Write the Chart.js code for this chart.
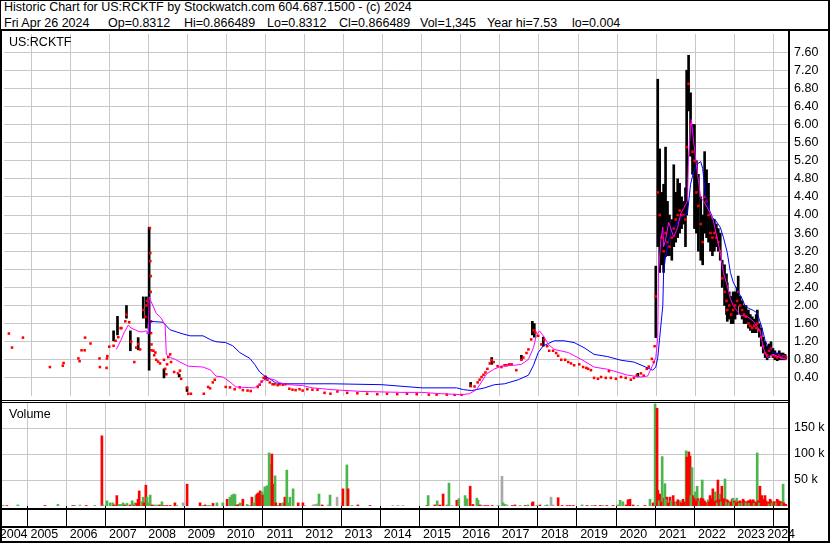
<!DOCTYPE html>
<html><head><meta charset="utf-8">
<script src="https://cdn.jsdelivr.net/npm/chart.js@4/dist/chart.umd.min.js"></script>
<style>
html,body{margin:0;padding:0;background:#fff;}
#wrap{position:relative;width:830px;height:543px;overflow:hidden;background:#fff;font-family:"Liberation Sans",Arial,sans-serif;}
.t{position:absolute;font-size:12.5px;line-height:14px;color:#000;white-space:pre;}
.ln{position:absolute;background:#000;}
canvas{position:absolute;left:0;}
</style></head><body>
<div id="wrap">
<canvas id="price" width="830" height="370" style="top:30px"></canvas>
<canvas id="vol" width="830" height="140" style="top:402px"></canvas>

<div class="t" style="left:4px;top:0px">Historic Chart for US:RCKTF by Stockwatch.com 604.687.1500 - (c) 2024</div>
<div class="t" style="left:4px;top:16px">Fri Apr 26 2024</div>
<div class="t" style="left:108px;top:16px">Op=0.8312</div>
<div class="t" style="left:184px;top:16px">Hi=0.866489</div>
<div class="t" style="left:267px;top:16px">Lo=0.8312</div>
<div class="t" style="left:339px;top:16px">Cl=0.866489</div>
<div class="t" style="left:420px;top:16px">Vol=1,345</div>
<div class="t" style="left:487px;top:16px">Year hi=7.53</div>
<div class="t" style="left:572px;top:16px">lo=0.004</div>
<div class="t" style="left:9px;top:35px">US:RCKTF</div>
<div class="t" style="left:9px;top:407px">Volume</div>

<div class="ln" style="left:0;top:0;width:830px;height:1px"></div>
<div class="ln" style="left:0;top:0;width:1px;height:543px"></div>
<div class="ln" style="left:828px;top:0;width:2px;height:543px"></div>
<div class="ln" style="left:0;top:541px;width:830px;height:2px"></div>
<div class="ln" style="left:0;top:29px;width:830px;height:2px"></div>
<div class="ln" style="left:0;top:29px;width:2px;height:514px"></div>
<div class="ln" style="left:788px;top:29px;width:2px;height:514px"></div>
<div class="ln" style="left:0;top:400px;width:789px;height:1px"></div>
<div class="ln" style="left:0;top:402px;width:789px;height:1px"></div>
<div class="ln" style="left:0;top:508px;width:789px;height:2px"></div>
<div class="ln" style="left:0;top:526px;width:789px;height:2px"></div>
</div>
<script>
// ---------- tick labels / categories ----------
const yearLabels = ['2004','2005','2006','2007','2008','2009','2010','2011','2012','2013','2014','2015','2016','2017','2018','2019','2020','2021','2022','2023','2024'];
const priceTickValues = [0.4,0.8,1.2,1.6,2.0,2.4,2.8,3.2,3.6,4.0,4.4,4.8,5.2,5.6,6.0,6.4,6.8,7.2,7.6];
const volumeTickValues = [50,100,150];
const volumeTickLabels = ['50 k','100 k','150 k'];

// ---------- closes (red marks) ----------
const closeDates = [
2004.43,2004.51,2004.79,2005.48,2005.81,2005.83,2006.21,2006.24,2006.29,2006.37,2006.38,2006.52,2006.75,2006.76,2006.93,2006.94,2006.95,
2007.00,2007.11,2007.16,2007.23,2007.29,2007.31,2007.41,2007.44,2007.51,2007.56,2007.64,2007.69,2007.74,2007.79,2007.87,2007.92,2007.95,2007.97,
2008.04,2008.05,2008.05,2008.06,2008.06,2008.07,2008.07,2008.08,2008.08,
2008.13,2008.15,2008.18,2008.20,2008.25,2008.30,2008.40,2008.43,2008.46,2008.48,2008.51,2008.56,2008.58,2008.66,2008.76,2008.81,2008.84,2008.99,
2009.02,2009.09,2009.42,2009.53,2009.58,2009.65,2009.70,2009.98,2010.09,2010.21,2010.34,2010.42,2010.54,2010.62,2010.80,2010.85,2010.90,2010.95,
2011.00,2011.05,2011.11,2011.18,2011.23,2011.31,2011.36,2011.44,2011.51,2011.61,2011.69,2011.77,2011.87,2011.95,2012.07,2012.20,2012.33,2012.51,2012.66,2012.84,
2013.09,2013.35,2013.60,2013.86,2014.11,2014.37,2014.62,2014.87,2015.18,2015.38,2015.64,2015.84,2016.02,
2016.25,2016.35,2016.43,2016.48,2016.53,2016.58,2016.63,2016.68,2016.74,2016.79,2016.84,2016.94,
2017.04,2017.12,2017.17,2017.24,2017.30,2017.42,2017.55,2017.60,2017.68,2017.73,2017.80,2017.86,2017.91,2017.98,
2018.06,2018.13,2018.21,2018.26,2018.36,2018.44,2018.49,2018.57,2018.67,2018.75,2018.82,2018.90,
2019.03,2019.13,2019.21,2019.26,2019.33,2019.41,2019.51,2019.59,2019.71,2019.79,2019.84,2019.97,
2020.10,2020.22,2020.35,2020.43,2020.50,2020.61,2020.68,2020.76,2020.81,2020.89,2020.94,2020.96,
2020.99,2021.04,2021.09,2021.14,2021.19,2021.24,2021.29,2021.34,2021.40,2021.45,2021.50,2021.55,2021.60,2021.65,2021.70,2021.75,2021.78,2021.83,2021.88,2021.93,
2021.98,2022.03,2022.08,2022.14,2022.19,2022.24,2022.29,2022.34,2022.39,2022.44,2022.49,2022.54,2022.59,2022.64,2022.69,2022.75,2022.80,2022.82,2022.87,2022.92,
2022.97,2023.02,2023.07,2023.10,2023.15,2023.20,2023.25,2023.30,2023.36,2023.41,2023.46,2023.51,2023.56,2023.59,2023.64,2023.69,2023.74,2023.79,2023.84,2023.89,
2023.94,2023.99,2024.04,2024.10,2024.15,2024.20,2024.25,2024.30,2024.32];
const closeValues = [
1.38,1.07,1.29,0.64,0.67,0.73,0.83,0.77,1.01,1.01,1.29,1.16,0.83,0.64,0.62,0.83,0.88,
1.09,1.11,1.22,1.30,1.50,1.50,1.65,1.80,1.63,1.20,0.75,1.07,1.15,1.03,1.90,1.75,2.00,2.10,
3.71,3.16,2.98,2.65,2.30,1.65,1.39,1.14,1.01,
1.00,0.90,0.96,0.80,0.76,0.72,0.80,0.60,0.48,0.70,0.86,0.92,0.75,0.53,0.50,0.56,0.38,0.18,
0.05,0.05,0.05,0.20,0.17,0.30,0.36,0.20,0.19,0.15,0.19,0.13,0.12,0.11,0.20,0.25,0.32,0.40,
0.42,0.36,0.30,0.26,0.26,0.24,0.26,0.25,0.26,0.16,0.14,0.13,0.15,0.12,0.15,0.14,0.14,0.07,0.05,0.10,
0.07,0.06,0.05,0.04,0.05,0.04,0.05,0.04,0.03,0.03,0.03,0.02,0.02,
0.23,0.21,0.30,0.36,0.42,0.47,0.52,0.60,0.72,0.79,0.75,0.66,
0.64,0.68,0.68,0.70,0.70,0.57,0.80,0.85,0.95,1.03,1.25,1.45,1.40,1.33,
1.14,1.24,1.10,1.00,1.00,0.95,0.89,0.80,0.80,0.75,0.72,0.68,
0.70,0.64,0.62,0.60,0.57,0.40,0.38,0.42,0.40,0.55,0.40,0.38,
0.42,0.40,0.36,0.40,0.45,0.50,0.45,0.60,0.65,0.82,0.75,1.10,
2.2,4.5,4.0,3.5,3.2,3.6,3.4,3.3,3.5,3.7,3.9,4.0,4.1,4.0,4.0,3.9,5.5,6.9,6.0,5.4,
5.2,4.5,4.2,3.8,3.4,4.4,4.3,4.0,3.6,3.5,3.6,3.5,3.4,3.2,2.6,2.3,2.1,1.9,2.0,1.8,
1.9,2.0,2.1,2.3,2.0,1.9,1.8,1.75,1.6,1.55,1.5,1.55,1.5,1.6,1.45,1.3,1.1,0.95,0.9,1.0,
1.05,0.9,0.88,0.85,0.9,0.85,0.88,0.85,0.87];

// ---------- high-low ranges (black bars) ----------
const barDates = [
2007.11,2007.21,2007.44,2007.54,2007.74,2007.87,2007.95,2007.97,2008.02,2008.40,2008.79,2008.99,2011.00,2016.25,2016.79,2017.55,2017.83,2017.88,2018.11,2020.53,
2020.99,2021.04,2021.09,2021.14,2021.19,2021.24,2021.29,2021.34,2021.40,2021.45,2021.50,2021.55,2021.60,2021.65,2021.70,2021.75,2021.78,2021.83,2021.88,2021.93,
2021.98,2022.03,2022.08,2022.14,2022.19,2022.24,2022.29,2022.34,2022.39,2022.44,2022.49,2022.54,2022.59,2022.64,2022.69,2022.75,2022.80,2022.82,2022.87,2022.92,
2022.97,2023.02,2023.07,2023.10,2023.15,2023.20,2023.25,2023.30,2023.36,2023.41,2023.46,2023.51,2023.56,2023.59,2023.64,2023.69,2023.74,2023.79,2023.84,2023.89,
2023.94,2023.99,2024.04,2024.10,2024.15,2024.20,2024.25,2024.30,2024.32];
const barLows = [
1.22,1.35,1.72,1.00,1.02,1.72,1.50,1.60,0.57,0.40,0.42,0.10,0.36,0.20,0.70,0.80,1.35,1.30,1.10,0.42,
1.29,3.30,2.73,2.90,2.73,3.08,3.10,3.10,3.00,3.30,3.40,3.50,3.60,3.70,3.80,3.30,4.00,6.30,5.30,4.90,
3.70,3.60,3.20,3.00,2.90,3.60,3.50,3.40,3.20,3.10,3.20,3.30,3.20,3.00,2.40,2.00,1.80,1.65,1.70,1.60,
1.60,1.70,1.80,2.00,1.80,1.70,1.60,1.60,1.50,1.45,1.40,1.40,1.40,1.50,1.30,1.10,0.95,0.85,0.80,0.85,
0.90,0.85,0.80,0.78,0.80,0.80,0.80,0.80,0.83];
const barHighs = [
1.44,1.76,2.00,1.44,1.29,2.19,2.19,2.00,3.73,0.60,0.48,0.20,0.44,0.30,0.85,0.90,1.65,1.60,1.30,0.50,
2.87,7.00,5.46,4.50,4.68,5.50,4.30,4.00,3.90,5.11,4.50,4.80,4.70,4.40,4.30,4.60,7.20,7.53,6.70,6.00,
6.00,5.20,4.90,4.40,4.00,5.40,5.00,4.70,4.00,3.90,3.90,3.80,3.70,3.60,3.00,2.90,2.70,2.50,2.30,2.20,
2.30,2.30,2.40,2.65,2.20,2.10,2.00,2.00,1.90,1.80,1.75,1.70,1.80,1.90,1.60,1.50,1.30,1.20,1.10,1.15,
1.20,1.05,1.00,0.95,1.00,0.95,0.95,0.92,0.87];

// ---------- short moving average (magenta) ----------
const fastDates = [
2007.18,2007.28,2007.39,2007.49,2007.56,2007.67,2007.77,2007.87,2007.95,2008.00,2008.02,2008.07,2008.20,2008.33,2008.40,2008.43,2008.46,2008.56,2008.69,2008.81,
2009.02,2009.40,2009.60,2009.73,2009.91,2010.09,2010.24,2010.72,2010.85,2010.98,2011.11,2011.23,2011.36,2011.61,2011.95,2012.20,2012.46,2012.71,2013.47,2014.49,
2015.00,2015.51,2016.02,2016.22,2016.40,2016.53,2016.66,2016.84,2017.04,2017.37,2017.55,2017.73,2017.86,2017.93,2018.01,2018.11,2018.24,2018.39,2018.75,2019.08,
2019.41,2019.76,2020.27,2020.61,2020.78,2020.91,2020.99,2021.04,2021.06,2021.12,2021.17,2021.19,2021.24,2021.32,2021.37,2021.45,2021.55,2021.63,2021.70,2021.80,
2021.83,2021.90,2021.96,2022.06,2022.14,2022.21,2022.31,2022.39,2022.46,2022.57,2022.64,2022.72,2022.82,2022.90,2022.97,2023.08,2023.15,2023.33,2023.49,2023.66,
2023.74,2023.84,2023.99,2024.17,2024.32];
const fastValues = [
1.03,1.20,1.42,1.57,1.50,1.46,1.42,1.42,1.44,1.37,2.19,2.09,1.83,1.72,1.61,1.57,0.92,0.85,0.81,0.75,
0.66,0.64,0.57,0.44,0.42,0.31,0.20,0.18,0.27,0.36,0.38,0.36,0.29,0.25,0.23,0.18,0.16,0.14,0.10,0.08,
0.08,0.05,0.03,0.05,0.14,0.31,0.49,0.59,0.66,0.68,0.70,0.81,1.07,1.33,1.44,1.33,1.14,1.03,0.96,0.81,
0.64,0.59,0.46,0.42,0.44,0.68,0.85,1.29,2.73,3.45,3.73,3.30,3.45,3.84,3.71,3.51,3.73,4.03,4.14,4.31,
5.33,6.11,5.61,4.90,4.38,4.31,4.16,4.03,3.88,3.45,3.17,2.73,2.43,2.15,2.00,1.87,1.78,1.76,1.65,1.44,
1.07,0.85,0.92,0.85,0.81];

// ---------- long moving average (blue) ----------
const slowDates = [
2007.95,2008.04,2008.05,2008.38,2008.46,2008.56,2008.71,2008.89,2009.07,2009.40,2009.60,2009.73,2009.98,2010.16,2010.34,2010.60,2010.72,2010.85,2010.98,2011.11,
2011.26,2011.51,2012.71,2013.98,2015.00,2015.89,2016.07,2016.28,2016.61,2016.86,2017.12,2017.47,2017.73,2017.86,2017.98,2018.11,2018.24,2018.39,2018.64,2018.90,
2019.15,2019.41,2019.76,2020.10,2020.43,2020.73,2020.91,2020.99,2021.04,2021.09,2021.17,2021.19,2021.24,2021.32,2021.42,2021.50,2021.57,2021.70,2021.80,2021.88,
2021.96,2022.06,2022.14,2022.19,2022.26,2022.34,2022.44,2022.52,2022.64,2022.72,2022.82,2022.90,2022.97,2023.10,2023.20,2023.28,2023.36,2023.49,2023.59,2023.71,
2023.79,2023.87,2023.99,2024.17,2024.32];
const slowValues = [
1.39,1.39,1.65,1.63,1.55,1.46,1.42,1.37,1.33,1.33,1.24,1.20,1.18,1.11,0.96,0.83,0.70,0.53,0.44,0.38,
0.29,0.27,0.27,0.25,0.18,0.18,0.14,0.12,0.18,0.25,0.27,0.36,0.46,0.68,0.96,1.11,1.16,1.22,1.22,1.18,
1.07,0.92,0.87,0.79,0.75,0.64,0.57,0.64,0.85,1.29,2.00,2.73,3.08,3.45,3.73,3.77,3.88,3.99,4.03,4.68,
4.96,5.13,5.18,5.03,4.46,4.16,3.95,3.88,3.73,3.51,3.17,2.73,2.52,2.30,2.15,1.98,1.94,1.89,1.83,1.50,
1.22,1.07,0.96,0.92,0.85];

// ---------- volume (thousands of shares); direction 1 up, -1 down, 0 unchanged ----------
const volDates = [
2004.38,2004.48,2004.76,2005.45,2005.78,2006.16,2006.21,2006.34,2006.50,2006.72,2006.90,2006.93,2007.03,2007.11,2007.18,2007.21,2007.28,2007.33,2007.39,2007.44,
2007.49,2007.54,2007.62,2007.67,2007.72,2007.74,2007.79,2007.82,2007.85,2007.92,2007.95,2007.97,2008.02,2008.05,2008.07,2008.13,2008.18,2008.20,2008.25,2008.30,
2008.33,2008.38,2008.43,2008.48,2008.51,2008.56,2008.64,2008.76,2008.81,2008.97,2009.07,2009.40,2009.47,2009.53,2009.60,2009.65,2009.73,2009.83,2009.98,2010.09,
2010.16,2010.21,2010.26,2010.29,2010.34,2010.39,2010.42,2010.49,2010.60,2010.67,2010.72,2010.77,2010.82,2010.85,2010.88,2010.93,2010.98,2011.00,2011.05,2011.11,
2011.16,2011.21,2011.23,2011.26,2011.31,2011.33,2011.39,2011.44,2011.51,2011.56,2011.61,2011.64,2011.69,2011.77,2011.90,2012.02,2012.07,2012.28,2012.33,2012.38,
2012.43,2012.51,2012.66,2012.71,2012.89,2013.02,2013.04,2013.14,2013.17,2013.27,2013.42,2013.73,2014.31,2014.44,2014.57,2015.18,2015.21,2015.38,2015.44,2015.51,
2015.59,2015.69,2015.74,2015.82,2015.94,2015.99,2016.15,2016.20,2016.28,2016.33,2016.35,2016.45,2016.48,2016.53,2016.58,2016.66,2016.73,2016.84,2016.99,2017.09,
2017.12,2017.17,2017.22,2017.35,2017.42,2017.55,2017.68,2017.75,2017.86,2017.88,2017.98,2018.06,2018.19,2018.24,2018.34,2018.39,2018.52,2018.62,2018.75,2018.82,
2018.90,2019.13,2019.26,2019.38,2019.46,2019.59,2019.66,2019.76,2019.92,2020.04,2020.10,2020.17,2020.25,2020.30,2020.35,2020.43,2020.55,2020.73,2020.86,2020.94,
2020.96,2020.99,2021.04,2021.06,2021.12,2021.17,2021.22,2021.24,2021.29,2021.37,2021.45,2021.50,2021.55,2021.63,2021.70,2021.75,2021.78,2021.80,2021.85,2021.88,
2021.93,2021.96,2022.01,2022.06,2022.08,2022.14,2022.19,2022.21,2022.26,2022.31,2022.39,2022.46,2022.52,2022.59,2022.64,2022.69,2022.77,2022.82,2022.90,2022.95,
2022.97,2023.02,2023.07,2023.15,2023.23,2023.28,2023.33,2023.41,2023.49,2023.54,2023.59,2023.66,2023.71,2023.74,2023.79,2023.84,2023.92,2023.99,2024.04,2024.10,
2024.17,2024.25,2024.30,
2021.09,2021.14,2021.27,2021.32,2021.40,2021.47,2021.52,2021.57,2021.65,2021.73,2021.83,2021.90,2021.98,2022.03,2022.11,2022.16,2022.24,2022.29,2022.34,2022.36,
2022.41,2022.44,2022.49,2022.54,2022.57,2022.62,2022.67,2022.72,2022.75,2022.80,2022.85,2022.87,2022.92,2023.00,2023.05,2023.10,2023.13,2023.18,2023.20,2023.25,
2023.30,2023.36,2023.38,2023.43,2023.46,2023.51,2023.56,2023.61,2023.64,2023.69,2023.76,2023.81,2023.87,2023.89,2023.94,2023.97,2024.02,2024.07,2024.12,2024.15,
2024.20,2024.22,2024.27,2024.32];
const volValues = [
1,1,2,1,3,1,1,2,1,1,135,2,10,6,6,2,20,3,3,6,
2,5,2,10,2,6,5,13,29,8,17,6,40,17,6,21,2,1,2,1,
2,2,8,1,1,1,1,6,1,6,42,6,1,2,1,1,5,6,6,13,
17,21,23,22,2,3,6,13,3,1,17,6,20,23,25,29,27,21,37,39,
102,80,100,42,58,6,1,5,6,17,69,6,17,33,6,6,1,2,3,4,
23,2,2,21,17,6,33,79,33,1,2,1,1,1,1,1,20,2,10,2,
23,2,44,1,11,14,20,14,38,2,3,15,11,2,1,1,1,1,1,57,
6,3,2,1,2,1,1,2,6,8,1,2,1,2,17,2,16,1,1,1,
1,2,1,1,1,1,1,1,1,2,11,8,2,12,13,2,1,1,13,6,
3,196,188,30,23,95,15,43,17,17,20,6,8,10,13,5,106,94,104,96,
74,20,27,38,14,8,50,14,8,6,20,33,27,50,23,38,52,12,6,13,
15,10,15,10,13,8,8,12,12,8,102,38,20,13,20,6,13,6,8,13,
6,42,3,
10,8,12,6,10,8,5,12,6,8,30,20,15,10,10,15,10,6,12,8,
10,14,8,10,6,12,8,10,14,8,10,6,8,6,6,8,5,8,6,10,
6,10,5,6,10,5,6,10,6,10,8,10,8,4,10,6,8,6,8,10,
8,5,6,3];
const volDirs = [
1,-1,1,-1,1,-1,1,0,-1,1,-1,1,1,1,1,-1,-1,1,1,1,
-1,1,-1,1,-1,1,-1,-1,-1,1,1,-1,-1,1,1,1,-1,-1,1,1,
1,-1,1,-1,1,-1,-1,-1,1,0,-1,-1,1,-1,1,1,-1,1,1,-1,
1,1,1,1,-1,-1,1,-1,1,1,-1,1,1,-1,-1,-1,1,-1,1,1,
1,1,-1,-1,1,-1,1,-1,1,-1,1,1,1,1,-1,-1,0,0,0,0,
1,-1,0,1,0,0,-1,1,-1,1,-1,-1,0,0,0,-1,1,-1,1,-1,
-1,1,1,0,-1,1,1,1,-1,1,-1,1,1,-1,1,-1,-1,-1,1,0,
1,1,0,-1,-1,1,-1,1,-1,-1,1,-1,0,1,0,0,-1,-1,-1,-1,
-1,1,-1,1,-1,-1,1,-1,-1,1,1,1,-1,-1,-1,-1,1,-1,1,-1,
-1,1,-1,-1,-1,1,-1,1,-1,-1,-1,1,-1,1,-1,1,1,-1,-1,-1,
1,-1,1,1,-1,-1,1,-1,-1,1,-1,-1,1,-1,1,-1,1,-1,-1,-1,
1,-1,1,-1,-1,-1,-1,-1,-1,-1,1,-1,-1,-1,-1,1,-1,-1,-1,-1,
-1,1,-1,
1,-1,1,-1,1,-1,1,-1,-1,-1,-1,1,-1,-1,1,-1,-1,-1,1,-1,
-1,-1,-1,-1,1,-1,1,-1,-1,1,-1,1,-1,1,-1,-1,1,-1,1,-1,
1,-1,1,-1,-1,1,-1,-1,1,-1,-1,-1,-1,1,-1,1,-1,1,-1,-1,
-1,1,-1,-1];

// ---------- build ----------
const T_MIN = 2004.305, T_MAX = 2024.40;
const GRID = '#c8c8c8';
const FONT = {family: "'Liberation Sans', Arial, sans-serif", size: 12.5};
const yearBoundaries = yearLabels.map(Number).filter(y => y > T_MIN && y < T_MAX);
const labelCenters = yearLabels.map(Number).map(y => {
  const a = Math.max(y, T_MIN), b = Math.min(y + 1, T_MAX);
  return (a === y && b === y + 1) ? y + 0.5 - 0.065 : (a + b) / 2;
});
const dirColor = d => d > 0 ? '#4cb64c' : (d < 0 ? '#ff0000' : '#a8a8a8');

Chart.defaults.font.family = FONT.family;

new Chart(document.getElementById('price'), {
  type: 'line',
  data: {
    datasets: [
      {type: 'bar', data: barDates.map((t, i) => ({x: t, y: [barLows[i], barHighs[i]]})),
       backgroundColor: '#000000', borderWidth: 0, barThickness: 2, grouped: false, order: 4},
      {type: 'line', data: closeDates.map((t, i) => ({x: t, y: closeValues[i]})), showLine: false,
       pointStyle: 'rect', pointRadius: 1.8, pointBackgroundColor: '#ff0000', pointBorderWidth: 0, order: 3},
      {type: 'line', data: slowDates.map((t, i) => ({x: t, y: slowValues[i]})), borderColor: '#0000ff',
       borderWidth: 1, pointRadius: 0, tension: 0, order: 2},
      {type: 'line', data: fastDates.map((t, i) => ({x: t, y: fastValues[i]})), borderColor: '#ff00ff',
       borderWidth: 1, pointRadius: 0, tension: 0, order: 1}
    ]
  },
  options: {
    responsive: false, animation: false, events: [],
    layout: {padding: 0},
    plugins: {legend: {display: false}, tooltip: {enabled: false}},
    scales: {
      x: {type: 'linear', min: T_MIN, max: T_MAX, offset: false, position: 'bottom',
          afterBuildTicks: s => { s.ticks = yearBoundaries.map(v => ({value: v})); },
          afterFit: s => { s.height = 0; s.paddingLeft = 0; s.paddingRight = 0; },
          grid: {color: GRID, lineWidth: 1, drawTicks: false, offset: false},
          border: {display: false}, ticks: {display: false}},
      y: {type: 'linear', position: 'right', min: 0, max: 8,
          afterBuildTicks: s => { s.ticks = priceTickValues.map(v => ({value: v})); },
          afterFit: s => { s.width = 41; s.paddingTop = 0; s.paddingBottom = 0; },
          grid: {color: GRID, lineWidth: 1, drawTicks: true, tickLength: 5, tickColor: 'rgba(0,0,0,0)'},
          border: {display: false},
          ticks: {padding: 0, color: '#000', font: FONT, autoSkip: false, callback: v => Number(v).toFixed(2)}}
    }
  }
});

new Chart(document.getElementById('vol'), {
  type: 'bar',
  data: {
    datasets: [
      {data: volDates.map((t, i) => ({x: t, y: volValues[i]})), backgroundColor: volDirs.map(dirColor),
       borderWidth: 0, barThickness: 2, grouped: false}
    ]
  },
  options: {
    responsive: false, animation: false, events: [],
    layout: {padding: 0},
    plugins: {legend: {display: false}, tooltip: {enabled: false}},
    scales: {
      x: {type: 'linear', axis: 'x', min: T_MIN, max: T_MAX, offset: false, position: 'bottom', weight: 0,
          afterBuildTicks: s => { s.ticks = yearBoundaries.map(v => ({value: v})); },
          afterFit: s => { s.height = 20; s.paddingLeft = 0; s.paddingRight = 0; },
          grid: {color: GRID, lineWidth: 1, drawTicks: true, tickLength: 20, tickColor: '#000', tickWidth: 1, offset: false},
          border: {display: false}, ticks: {display: false}},
      xl: {type: 'linear', axis: 'x', min: T_MIN, max: T_MAX, offset: false, position: 'bottom', weight: 1,
          afterBuildTicks: s => { s.ticks = labelCenters.map(v => ({value: v})); },
          afterFit: s => { s.height = 16; s.paddingLeft = 0; s.paddingRight = 0; },
          grid: {display: false, drawTicks: false}, border: {display: false},
          ticks: {padding: 1.5, color: '#000', font: FONT, autoSkip: false, maxRotation: 0, minRotation: 0,
                  callback: (v, i) => yearLabels[i]}},
      y: {type: 'linear', position: 'right', min: 0, max: 200,
          afterBuildTicks: s => { s.ticks = volumeTickValues.map(v => ({value: v})); },
          afterFit: s => { s.width = 41; s.paddingTop = 0; s.paddingBottom = 0; },
          grid: {color: GRID, lineWidth: 1, drawTicks: true, tickLength: 5, tickColor: 'rgba(0,0,0,0)'},
          border: {display: false},
          ticks: {padding: 0, color: '#000', font: FONT, autoSkip: false, callback: (v, i) => volumeTickLabels[i]}}
    }
  }
});
</script>
</body></html>
